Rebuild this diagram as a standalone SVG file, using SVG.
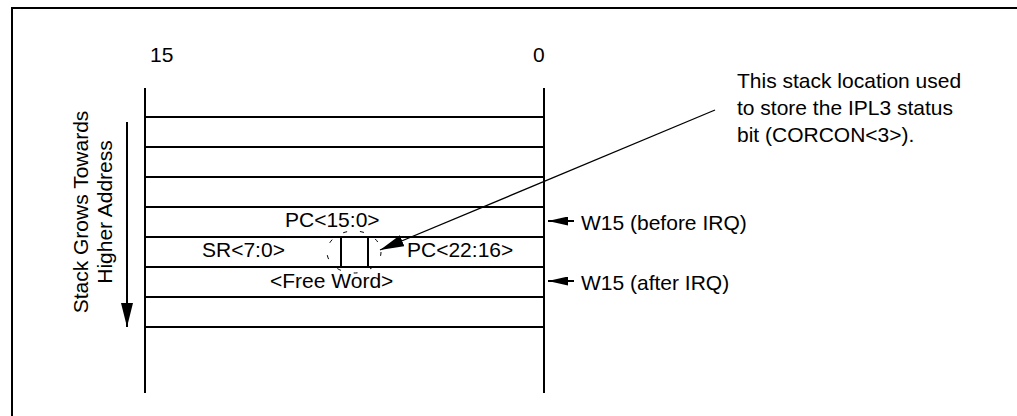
<svg xmlns="http://www.w3.org/2000/svg" width="1017" height="416" viewBox="0 0 1017 416">
<style>
text{font-family:"Liberation Sans",Arial,sans-serif;font-size:21px;fill:#000}
.ln{stroke:#000;stroke-width:2;fill:none}
.thin{stroke:#000;stroke-width:1.3;fill:none}
.dash{stroke:#000;stroke-width:1;fill:none;stroke-dasharray:4 13}
</style>
<defs>
<marker id="ahs" markerUnits="userSpaceOnUse" markerWidth="20" markerHeight="9" viewBox="0 0 20 9" refX="20" refY="4.5" orient="auto"><path d="M0,0 L20,4.5 L0,9 Z" fill="#000"/></marker>
<marker id="ahl" markerUnits="userSpaceOnUse" markerWidth="24" markerHeight="12" viewBox="0 0 24 12" refX="24" refY="6" orient="auto"><path d="M0,0 L24,6 L0,12 Z" fill="#000"/></marker>
</defs>
<rect width="1017" height="416" fill="#fff"/>
<path class="ln" d="M12,416 V8 H1017"/>
<g id="bit-labels">
<text x="150" y="62">15</text>
<text x="533" y="62">0</text>
</g>
<g id="stack">
<path class="ln" d="M145,88 V393 M544,88 V393 M145,117 H544 M145,147 H544 M145,177 H544 M145,207 H544 M145,237 H544 M145,267 H544 M145,297 H544 M145,327 H544"/>
</g>
<g id="row-pc-low"><text x="285" y="227">PC&lt;15:0&gt;</text></g>
<g id="row-sr">
<text x="202" y="257">SR&lt;7:0&gt;</text>
<path class="ln" d="M341,237 V267 M368,237 V267"/>
<text x="407" y="257">PC&lt;22:16&gt;</text>
</g>
<g id="row-free"><text x="270" y="288">&lt;Free Word&gt;</text></g>
<g id="ipl3-highlight"><ellipse class="dash" cx="354" cy="252" rx="27" ry="21"/></g>
<g id="growth-label">
<text transform="translate(88,212) rotate(-90)" text-anchor="middle">Stack Grows Towards</text>
<text transform="translate(112,212) rotate(-90)" text-anchor="middle">Higher Address</text>
</g>
<g id="w15-before"><text x="581" y="229.5">W15 (before IRQ)</text></g>
<g id="w15-after"><text x="581" y="289.5">W15 (after IRQ)</text></g>
<g id="callout">
<text x="737" y="88">This stack location used</text>
<text x="737" y="115">to store the IPL3 status</text>
<text x="737" y="141.5">bit (CORCON&lt;3&gt;).</text>
</g>
<g id="connectors">
<line class="thin" x1="715" y1="110" x2="380" y2="250" marker-end="url(#ahl)"/>
<line class="ln" x1="574" y1="221" x2="548" y2="221" marker-end="url(#ahs)"/>
<line class="ln" x1="574" y1="281" x2="548" y2="281" marker-end="url(#ahs)"/>
<line class="ln" x1="127" y1="122" x2="127" y2="327" marker-end="url(#ahl)"/>
</g>
</svg>
